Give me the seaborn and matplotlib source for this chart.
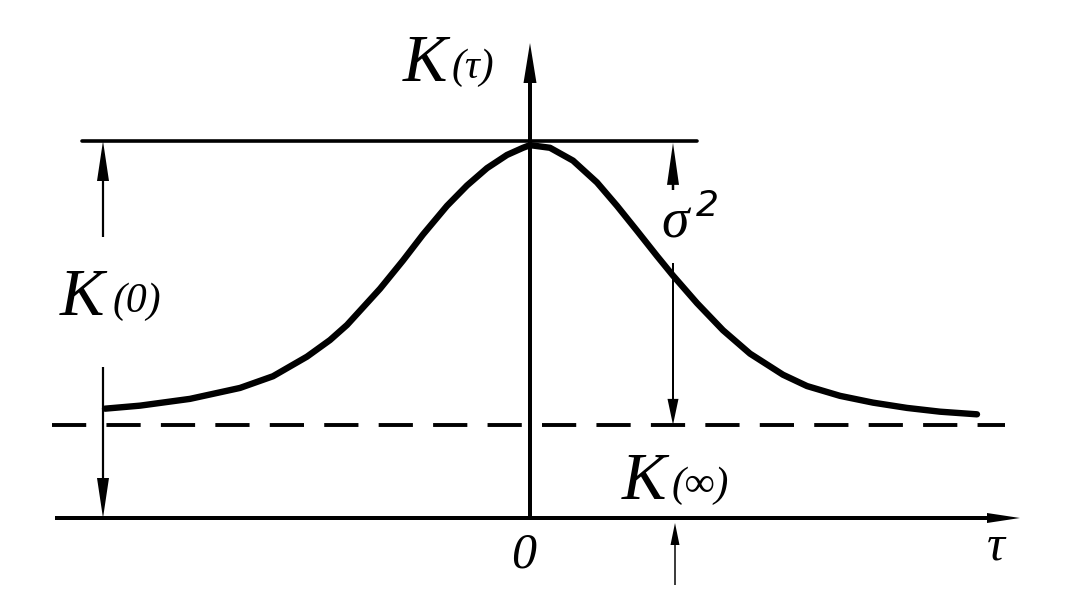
import matplotlib
matplotlib.use("Agg")
import matplotlib.pyplot as plt
import seaborn as sns
import pandas as pd

# ---- data (tau in units of 100 px, K normalised to K(0)=1) ----
tau = [-4.25, -3.90, -3.40, -2.90, -2.57, -2.23, -2.00, -1.83, -1.50, -1.27,
       -1.07, -0.83, -0.63, -0.43, -0.23, -0.07, 0.0, 0.20, 0.43, 0.67, 0.87, 1.07,
       1.27, 1.43, 1.67, 1.93, 2.20, 2.53, 2.77, 3.10, 3.43, 3.77, 4.10, 4.47]
K = [0.290, 0.298, 0.316, 0.345, 0.376, 0.428, 0.472, 0.512, 0.608, 0.683,
     0.752, 0.828, 0.882, 0.928, 0.963, 0.982, 0.989, 0.982, 0.948, 0.890, 0.828, 0.762,
     0.695, 0.643, 0.570, 0.498, 0.436, 0.380, 0.350, 0.324, 0.306, 0.292, 0.282, 0.275]
K_zero = 1.0        # K(0) level
K_inf = 0.247       # K(inf) level (dashed line)
tau_sigma = 1.43    # where the sigma^2 dimension is drawn
tau_left = -4.27    # where the K(0) dimension is drawn

sns.set_theme(style="white")
plt.rcParams['font.family'] = ['Liberation Serif', 'DejaVu Serif']

W, H = 1078, 610
SX, SY = 100.0, 377.0   # pixels per data unit
fig = plt.figure(figsize=(W / 100, H / 100), dpi=100)
ax = fig.add_axes([0, 0, 1, 1])
ax.set_xlim((0 - 530) / SX, (W - 530) / SX)
ax.set_ylim((518 - H) / SY, 518 / SY)
ax.axis('off')

def X(px):
    return (px - 530) / SX

def Y(py):
    return (518 - py) / SY

df = pd.DataFrame({"tau": tau, "K": K})
sns.lineplot(data=df, x="tau", y="K", ax=ax, color="black", lw=4.6, sort=False,
             solid_capstyle="round", solid_joinstyle="round")

# horizontal lines
ax.plot([X(82), X(697)], [K_zero, K_zero], color="black", lw=2.6)
ax.plot([X(52), X(1005)], [K_inf, K_inf], color="black", lw=2.8,
        dashes=(8.8, 5.2))

def varrow(x, y0, y1, shaft, hw, hl):
    ax.arrow(x, y0, 0, y1 - y0, width=shaft / SX, head_width=hw / SX,
             head_length=hl / SY, length_includes_head=True, fc="black", ec="none")

def harrow(y, x0, x1, shaft, hw, hl):
    ax.arrow(x0, y, x1 - x0, 0, width=shaft / SY, head_width=hw / SY,
             head_length=hl / SX, length_includes_head=True, fc="black", ec="none")

# axes
harrow(0, X(55), X(1020), 4, 10, 33)
varrow(0, 0, Y(43), 4, 13, 40)

# K(0) dimension
varrow(tau_left, Y(237), K_zero, 2.2, 12, 40)
varrow(tau_left, Y(367), 0, 2.2, 12, 40)

# sigma^2 dimension
varrow(tau_sigma, Y(190), K_zero - 0.005, 2.5, 12, 42)
varrow(tau_sigma, Y(263), K_inf, 2.0, 11, 26)

# small arrow below axis
varrow(X(675), Y(585), Y(523), 1.5, 9, 22)

# labels
def txt(px, py, s, size, style="italic", family=None):
    kw = {}
    if family:
        kw["family"] = family
    ax.text(X(px), Y(py), s, fontsize=size, style=style, ha="left", va="baseline",
            color="black", **kw)

txt(403, 81, "K", 48)
txt(452, 78, "(τ)", 30)
txt(60, 315, "K", 48)
txt(113, 312, "(0)", 30)
txt(622, 499, "K", 48)
txt(672, 496, "(∞)", 30)
txt(661, 237, "σ", 40)
txt(696, 216, "2", 26, style="italic", family=["DejaVu Sans"])
txt(511, 567, "0", 36)
txt(987, 560, "τ", 36)

fig.savefig("out.png", dpi=100, facecolor="white")
